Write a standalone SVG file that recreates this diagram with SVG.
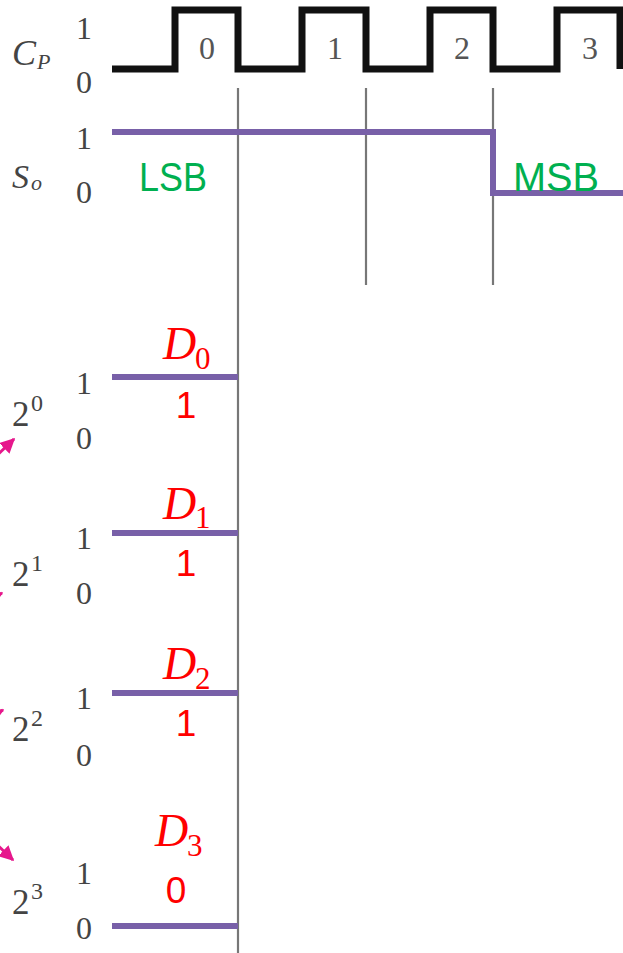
<svg xmlns="http://www.w3.org/2000/svg" width="623" height="953" viewBox="0 0 623 953">
<style>
.lbl{font-family:"Liberation Serif",serif;fill:#444;font-size:32px;text-anchor:middle}
.two{font-family:"Liberation Serif",serif;fill:#444;font-size:35px}
.sup{font-family:"Liberation Serif",serif;fill:#444;font-size:24px}
.num{font-family:"Liberation Serif",serif;fill:#555;font-size:32px;text-anchor:middle}
.var{font-family:"Liberation Serif",serif;fill:#444;font-style:italic}
.sig{fill:none;stroke:#7860a8;stroke-width:6}
.grid{stroke:#777;stroke-width:2.2}
.grn{font-family:"Liberation Sans",sans-serif;fill:#00b050;font-size:40px}
.dl{font-family:"Liberation Serif",serif;fill:#ff0000;font-style:italic;font-size:46px}
.ds{font-family:"Liberation Serif",serif;fill:#ff0000;font-size:31px}
.dv{font-family:"Liberation Sans",sans-serif;fill:#ff0000;font-size:37px;text-anchor:middle}
.mg{stroke:#e6178c;stroke-width:3;fill:none}
</style>
<defs>
<marker id="ah" viewBox="0 0 10 10" refX="9" refY="5" markerWidth="5" markerHeight="5" orient="auto" markerUnits="strokeWidth">
<path d="M0,0 L10,5 L0,10 z" fill="#e6178c"/>
</marker>
</defs>

<g id="gridlines">
<line class="grid" x1="238" y1="88" x2="238" y2="953"/>
<line class="grid" x1="366" y1="88" x2="366" y2="285"/>
<line class="grid" x1="493" y1="88" x2="493" y2="285"/>
</g>

<g id="clock">
<text class="var" x="12" y="65" font-size="36">C</text>
<text class="var" x="37" y="69" font-size="22">P</text>
<text class="lbl" x="84" y="39">1</text>
<text class="lbl" x="84" y="93">0</text>
<path d="M112,69 H175 V10 H238 V69 H302 V10 H366 V69 H430 V10 H493 V69 H557 V10 H620 V69" fill="none" stroke="#111" stroke-width="7"/>
<text class="num" x="207" y="59">0</text>
<text class="num" x="335" y="59">1</text>
<text class="num" x="462" y="59">2</text>
<text class="num" x="590" y="59">3</text>
</g>

<g id="serial-out">
<text class="var" x="12" y="188" font-size="34">S</text>
<text class="var" x="31" y="190" font-size="22">o</text>
<text class="lbl" x="84" y="149">1</text>
<text class="lbl" x="84" y="203">0</text>
<path class="sig" d="M112,132 H493 V193 H623"/>
<text class="grn" x="139" y="191" textLength="68" lengthAdjust="spacingAndGlyphs">LSB</text>
<text class="grn" x="513" y="191" textLength="86" lengthAdjust="spacingAndGlyphs">MSB</text>
</g>

<g id="d0">
<text class="two" x="12" y="426">2</text>
<text class="sup" x="31" y="411">0</text>
<text class="lbl" x="84" y="394">1</text>
<text class="lbl" x="84" y="449">0</text>
<line class="sig" x1="112" y1="377" x2="238" y2="377"/>
<text class="dl" x="163" y="359">D</text>
<text class="ds" x="195" y="369">0</text>
<text class="dv" x="186" y="418">1</text>
</g>

<g id="d1">
<text class="two" x="12" y="586">2</text>
<text class="sup" x="31" y="571">1</text>
<text class="lbl" x="84" y="549">1</text>
<text class="lbl" x="84" y="604">0</text>
<line class="sig" x1="112" y1="533" x2="238" y2="533"/>
<text class="dl" x="163" y="519">D</text>
<text class="ds" x="195" y="528">1</text>
<text class="dv" x="186" y="576">1</text>
</g>

<g id="d2">
<text class="two" x="12" y="741">2</text>
<text class="sup" x="31" y="726">2</text>
<text class="lbl" x="84" y="709">1</text>
<text class="lbl" x="84" y="766">0</text>
<line class="sig" x1="112" y1="693" x2="238" y2="693"/>
<text class="dl" x="163" y="679">D</text>
<text class="ds" x="195" y="689">2</text>
<text class="dv" x="186" y="736">1</text>
</g>

<g id="d3">
<text class="two" x="12" y="914">2</text>
<text class="sup" x="31" y="899">3</text>
<text class="lbl" x="84" y="884">1</text>
<text class="lbl" x="84" y="939">0</text>
<line class="sig" x1="112" y1="926" x2="238" y2="926"/>
<text class="dl" x="155" y="846">D</text>
<text class="ds" x="187" y="856">3</text>
<text class="dv" x="176" y="903">0</text>
</g>

<g id="connectors">
<line class="mg" x1="-12" y1="464" x2="14" y2="439" marker-end="url(#ah)"/>
<line class="mg" x1="-20" y1="605" x2="2" y2="593" marker-end="url(#ah)"/>
<line class="mg" x1="-20" y1="722" x2="3" y2="710" marker-end="url(#ah)"/>
<line class="mg" x1="-12" y1="836" x2="13" y2="860" marker-end="url(#ah)"/>
</g>
</svg>
